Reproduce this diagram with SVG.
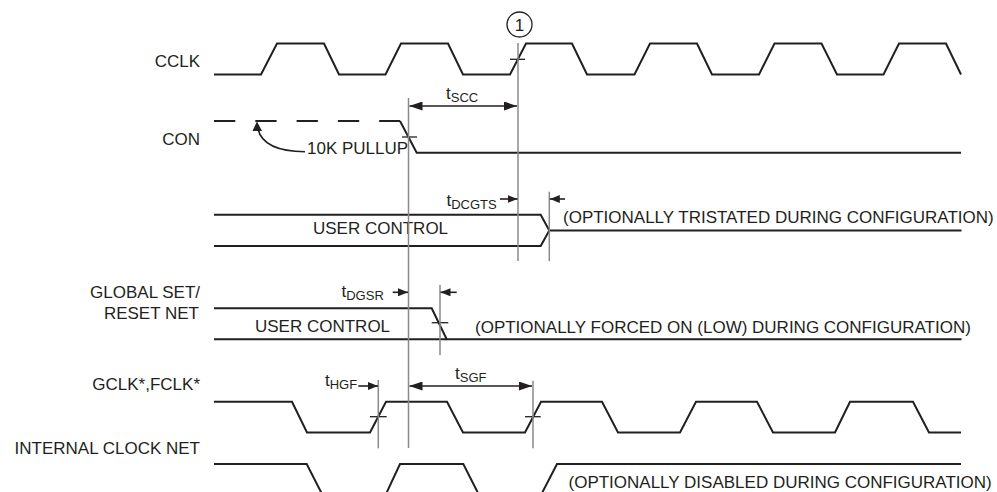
<svg xmlns="http://www.w3.org/2000/svg" width="997" height="492" viewBox="0 0 997 492">
<style>
text{font-family:"Liberation Sans",Arial,sans-serif;font-size:17px;fill:#231f20}
.sub{font-size:13px}
.lbl{text-anchor:end}
.w{fill:none;stroke:#231f20;stroke-width:2;stroke-linejoin:miter}
.ref{fill:none;stroke:#8a8a8a;stroke-width:1.5}
.tick{fill:none;stroke:#231f20;stroke-width:1.3}
.dim{fill:none;stroke:#231f20;stroke-width:1.6}
</style>
<defs>
<marker id="ah" markerUnits="userSpaceOnUse" markerWidth="13" markerHeight="9" refX="13" refY="4.5" orient="auto-start-reverse"><path d="M0,0 L13,4.5 L0,9 z" fill="#231f20"/></marker>
<marker id="as" markerUnits="userSpaceOnUse" markerWidth="10" markerHeight="8" refX="10" refY="4" orient="auto-start-reverse"><path d="M0,0 L10,4 L0,8 z" fill="#231f20"/></marker>
</defs>
<rect width="997" height="492" fill="#ffffff"/>

<g id="cclk">
<text class="lbl" x="200" y="66.5">CCLK</text>
<path class="w" d="M214,74.5 H261 L277,43.5 H324 L339,74.5 H385.5 L401,43.5 H448 L463,74.5 H510 L526,43.5 H572 L587,74.5 H634.5 L650,43.5 H697 L712,74.5 H759 L774.5,43.5 H821.5 L837,74.5 H883.5 L899,43.5 H946 L961,74.5"/>
<path class="tick" d="M510,59.3 H525"/>
</g>

<g id="marker1">
<circle cx="519.5" cy="24.5" r="12.5" fill="none" stroke="#231f20" stroke-width="1.3"/>
<text x="519.5" y="30.5" text-anchor="middle">1</text>
</g>

<g id="con">
<text class="lbl" x="200" y="145">CON</text>
<path class="w" d="M214,121 H400" stroke-dasharray="21.3 20"/>
<path class="w" d="M400,121 L416.7,152.7 H961"/>
<path class="tick" d="M402,137 H417"/>
<text x="307" y="154">10K PULLUP</text>
<path class="dim" d="M305,151.7 C282,151.5 262,146 258,129" fill="none"/>
<path d="M257,121.5 L252.5,131 L262,131 z" fill="#231f20"/>
</g>

<g id="user-bus">
<path class="w" d="M214,214.7 H540.7 L549.3,230.5 L540.7,246 H214"/>
<path class="w" d="M549.3,230.5 H961.5"/>
<text x="313" y="234.3">USER CONTROL</text>
<text x="563" y="223">(OPTIONALLY TRISTATED DURING CONFIGURATION)</text>
</g>

<g id="gsr">
<text class="lbl" x="200" y="298.3">GLOBAL SET/</text>
<text class="lbl" x="199" y="319">RESET NET</text>
<path class="w" d="M214,308.3 H431.7 L446.7,339.3 H961.5"/>
<path class="w" d="M214,339.3 H446.7"/>
<path class="tick" d="M431.7,322.7 H448.3"/>
<text x="255" y="331.7">USER CONTROL</text>
<text x="475" y="333.3">(OPTIONALLY FORCED ON (LOW) DURING CONFIGURATION)</text>
</g>

<g id="gclk">
<text class="lbl" x="200" y="390">GCLK*,FCLK*</text>
<path class="w" d="M214,401.7 H292 L307,432.5 H370 L386,401.7 H447 L463,432.5 H525 L541,401.7 H602 L618,432.5 H680 L696,401.7 H757 L773,432.5 H835 L850,401.7 H913 L929,432.5 H961"/>
<path class="tick" d="M370,416.7 H386.7"/>
<path class="tick" d="M525,416.7 H540.7"/>
</g>

<g id="internal-clock">
<text class="lbl" x="200" y="454">INTERNAL CLOCK NET</text>
<path class="w" d="M214,464 H306.7 L322,494"/>
<path class="w" d="M386,494 L400,464 H463.3 L478.5,494"/>
<path class="w" d="M541.5,494 L557,464 H961"/>
<text x="568.5" y="487.5">(OPTIONALLY DISABLED DURING CONFIGURATION)</text>
</g>

<g id="connectors">
<path class="ref" d="M408.5,98 V448"/>
<path class="ref" d="M518,43 V261"/>
<path class="ref" d="M549.3,191.7 V261"/>
<path class="ref" d="M440,285 V355"/>
<path class="ref" d="M378.3,380 V448.3"/>
<path class="ref" d="M533,380.7 V448.3"/>

<path class="dim" d="M409.5,106 H517" marker-start="url(#ah)" marker-end="url(#ah)"/>
<text x="446" y="98.7">t<tspan class="sub" dy="3">SCC</tspan></text>

<path class="dim" d="M500,199 H517.5" marker-end="url(#as)"/>
<path class="dim" d="M565,199 H549.8" marker-end="url(#as)"/>
<text x="446.5" y="206.3">t<tspan class="sub" dy="3">DCGTS</tspan></text>

<path class="dim" d="M392.7,292.3 H408" marker-end="url(#as)"/>
<path class="dim" d="M456.7,292.3 H440.5" marker-end="url(#as)"/>
<text x="341.5" y="297">t<tspan class="sub" dy="3">DGSR</tspan></text>

<path class="dim" d="M358.3,386 H378" marker-end="url(#as)"/>
<text x="325" y="386">t<tspan class="sub" dy="3">HGF</tspan></text>

<path class="dim" d="M409.5,386 H532" marker-start="url(#ah)" marker-end="url(#ah)"/>
<text x="455" y="378.7">t<tspan class="sub" dy="3">SGF</tspan></text>
</g>
</svg>
